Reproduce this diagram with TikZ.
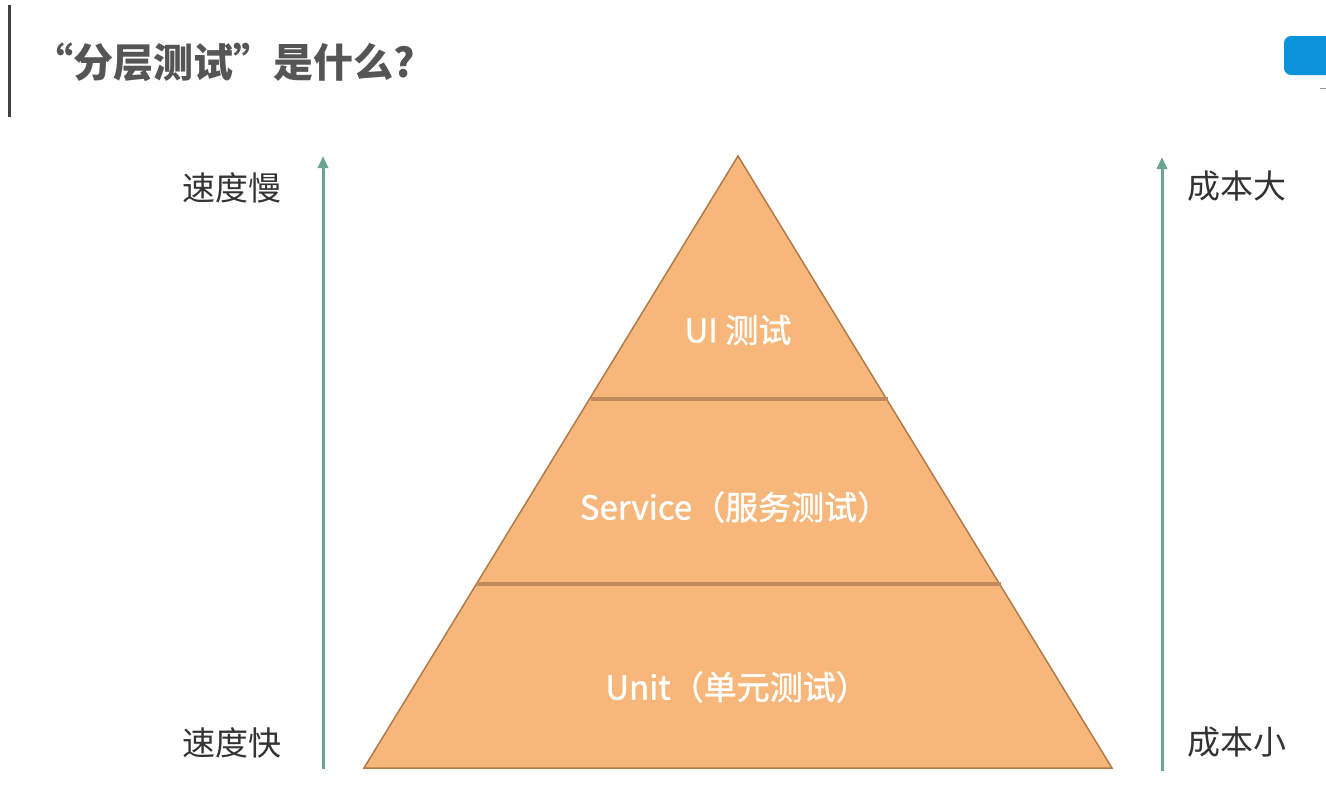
\documentclass[tikz,border=0pt]{standalone}
\usepackage{fontspec}
\newfontfamily\cjk{Noto Sans CJK SC}
\newfontfamily\cjkm[FakeBold=1.2]{Noto Sans CJK SC}
\usetikzlibrary{arrows.meta}
\definecolor{pyrfill}{HTML}{F8B77A}
\definecolor{pyredge}{HTML}{B07A48}
\definecolor{divline}{HTML}{C08A5C}
\definecolor{axisc}{HTML}{6AA592}
\definecolor{labc}{HTML}{333333}
\definecolor{titlec}{HTML}{555555}
\definecolor{blueb}{HTML}{0B92DA}
\tikzset{
  lab/.style={font=\cjk\fontsize{33}{38}\selectfont, text=labc, inner sep=0pt},
  layertext/.style={font=\cjkm\fontsize{33}{38}\selectfont, text=white, inner sep=0pt},
  axis/.style={draw=axisc, line width=3pt, -{Triangle[length=12pt,width=10pt]}},
  divider/.style={draw=divline, line width=4pt},
}
\begin{document}
\begin{tikzpicture}[x=1pt,y=-1pt]
\useasboundingbox[fill=white] (0,0) rectangle (1326,803);
% left bar
\fill[black!75] (7.5,5) rectangle (11,117);
% title
\node[font=\cjk\bfseries\fontsize{40}{45}\selectfont, text=titlec, anchor=west, inner sep=0pt] (title) at (33,62) {“分层测试”是什么?};
% blue tab
\fill[blueb, rounded corners=7pt] (1284,36) rectangle (1340,75);
\draw[black!40, line width=1pt] (1320,88) -- (1326,88);
% pyramid
\coordinate (apex) at (738,156);
\coordinate (bl) at (364,768);
\coordinate (br) at (1112,768);
\filldraw[fill=pyrfill, draw=pyredge, line width=1.5pt] (apex) -- (br) -- (bl) -- cycle;
\coordinate (d1l) at (591,399);
\coordinate (d1r) at (888,399);
\coordinate (d2l) at (476,584);
\coordinate (d2r) at (1001,584);
\draw[divider] (d1l) -- (d1r);
\draw[divider] (d2l) -- (d2r);
\node[layertext] (ui) at (738,330) {UI 测试};
\node[layertext] (svc) at (735,507) {Service（服务测试）};
\node[layertext] (unit) at (737,687) {Unit（单元测试）};
% axes
\coordinate (la0) at (323,769);
\coordinate (la1) at (323,156);
\coordinate (ra0) at (1162,771);
\coordinate (ra1) at (1162,157);
\draw[axis] (la0) -- (la1);
\draw[axis] (ra0) -- (ra1);
% labels
\node[lab] (slow) at (232,188) {速度慢};
\node[lab] (fast) at (232,743) {速度快};
\node[lab] (costhi) at (1237,186) {成本大};
\node[lab] (costlo) at (1237,742) {成本小};
\end{tikzpicture}
\end{document}
